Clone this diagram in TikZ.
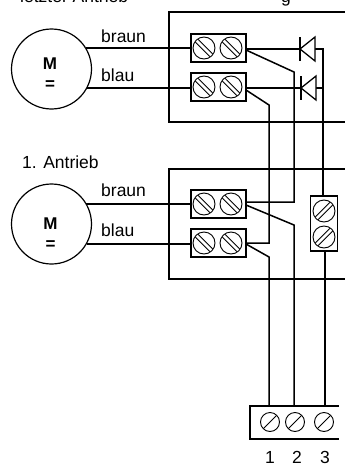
\documentclass[tikz,border=0pt]{standalone}
\usepackage{fontspec}
\setmainfont{Liberation Sans}
\usetikzlibrary{calc}
\tikzset{
  thick wall/.style={line width=2.3pt,line cap=rect},
  wire/.style={line width=1.5pt},
  blockbox/.style={draw,line width=1.6pt,minimum width=55pt,minimum height=28pt,inner sep=0pt,fill=white},
  vblockbox/.style={draw,line width=1.6pt,minimum width=27pt,minimum height=55pt,inner sep=0pt,fill=white},
  motor/.style={draw,circle,line width=1.2pt,minimum size=80pt,inner sep=0pt,fill=white},
  motortext/.style={font=\bfseries\fontsize{17}{20}\selectfont,inner sep=0pt,anchor=base},
  lbl/.style={font=\fontsize{17.5}{20}\selectfont,inner sep=0pt,anchor=base west},
  num/.style={font=\fontsize{17.5}{20}\selectfont,inner sep=0pt,anchor=base},
  screw/.style={draw,circle,line width=.9pt,minimum size=22pt,inner sep=0pt},
  smallscrew/.style={draw,circle,line width=.9pt,minimum size=19pt,inner sep=0pt},
  stroke/.style={line width=.9pt},
}
\newcommand{\screwDouble}[3]{%
  \node[screw] (#1) at (#2,#3) {};
  \draw[stroke] ($(#1)+(-5.8,-8.6)$) -- ($(#1)+(8.6,5.8)$);
  \draw[stroke] ($(#1)+(-8.6,-5.8)$) -- ($(#1)+(5.8,8.6)$);
}
\newcommand{\screwRise}[3]{%
  \node[screw] (#1) at (#2,#3) {};
  \draw[stroke] ($(#1)+(-5.8,8.6)$) -- ($(#1)+(8.6,-5.8)$);
  \draw[stroke] ($(#1)+(-8.6,5.8)$) -- ($(#1)+(5.8,-8.6)$);
}
\begin{document}
\begin{tikzpicture}[x=1pt,y=-1pt]
\useasboundingbox (0,0) rectangle (345,466);
\clip (0,0) rectangle (345,466);
% clipped heading
\node[lbl] (hA) at (20,2) {letzter Antrieb};
\node[lbl] (hB) at (281,2) {g};
% housings
\draw[thick wall] (345,12) -- (169,12) -- (169,122) -- (345,122);
\draw[thick wall] (345,169) -- (169,169) -- (169,279) -- (345,279);
\draw[thick wall] (338,406) -- (250,406) -- (250,439) -- (338,439);
% motors
\node[motor] (m1) at (51.5,69) {};
\node[motor] (m2) at (51.5,224) {};
\node[motortext] (m1a) at (50,69) {M};
\node[motortext] (m1b) at (50,89) {=};
\node[motortext] (m2a) at (50.5,229) {M};
\node[motortext] (m2b) at (50.5,249) {=};
\node[lbl] (t1) at (101,42) {braun};
\node[lbl] (t2) at (101,81) {blau};
\node[lbl] (t3) at (22,168) {1. Antrieb};
\node[lbl] (t4) at (101,196) {braun};
\node[lbl] (t5) at (101,236) {blau};
% terminal blocks
\node[blockbox] (b1) at (218.5,48) {};
\node[blockbox] (b2) at (218.5,87) {};
\node[blockbox] (b3) at (218.5,204) {};
\node[blockbox] (b4) at (218.5,243) {};
\node[vblockbox] (b5) at (324,223.5) {};
% motor leads
\draw[wire] (m1.center) ++(34.5,-21) coordinate (a1) -- (a1 -| b1.west);
\draw[wire] (m1.center) ++(35,19) coordinate (a2) -- (a2 -| b2.west);
\draw[wire] (m2.center) ++(34.5,-20) coordinate (a3) -- (a3 -| b3.west);
\draw[wire] (m2.center) ++(35,20) coordinate (a4) -- (a4 -| b4.west);
% screws
\screwDouble{s11}{204}{48}\screwDouble{s12}{231}{48}
\screwDouble{s21}{204}{87}\screwDouble{s22}{231}{87}
\screwDouble{s31}{204}{204}\screwDouble{s32}{231}{204}
\screwDouble{s41}{204}{243}\screwDouble{s42}{231}{243}
\screwRise{s51}{324}{211}\screwRise{s52}{324}{237}
% diodes
\coordinate (d1) at (300,49);
\coordinate (d2) at (301,88);
\draw[wire] (b1.east |- d1) -- (323,49) -- (323,88);
\draw[wire] (b2.east |- d2) -- (323,88);
\draw[wire] (323,88) -- (323,196);
\foreach \d in {d1,d2}{
  \draw[line width=1.3pt,fill=white,line join=miter] ($(\d)+(15,-12)$) -- (\d) -- ($(\d)+(15,12)$) -- cycle;
  \draw[line width=1.6pt] ($(\d)+(0,-12)$) -- ($(\d)+(0,12)$);
}
% crossing links
\draw[wire] (246,50) -- (294,72) -- (294,202) -- (246,202);
\draw[wire] (246,90) -- (269,105) -- (269,243) -- (246,243);
% to the field terminal
\draw[wire] (246,205) -- (294,225) -- (294,406);
\draw[wire] (246,244) -- (269,257) -- (269,406);
\draw[wire] (325,251) -- (325,406);
% field terminal
\foreach \n/\x in {f1/270,f2/295,f3/324}{
  \node[smallscrew] (\n) at (\x,422) {};
  \draw[stroke] ($(\n)+(-6.5,6.5)$) -- ($(\n)+(6.5,-6.5)$);
}
\node[num] (n1) at (270,463) {1};
\node[num] (n2) at (297,463) {2};
\node[num] (n3) at (325,463) {3};
\end{tikzpicture}
\end{document}
